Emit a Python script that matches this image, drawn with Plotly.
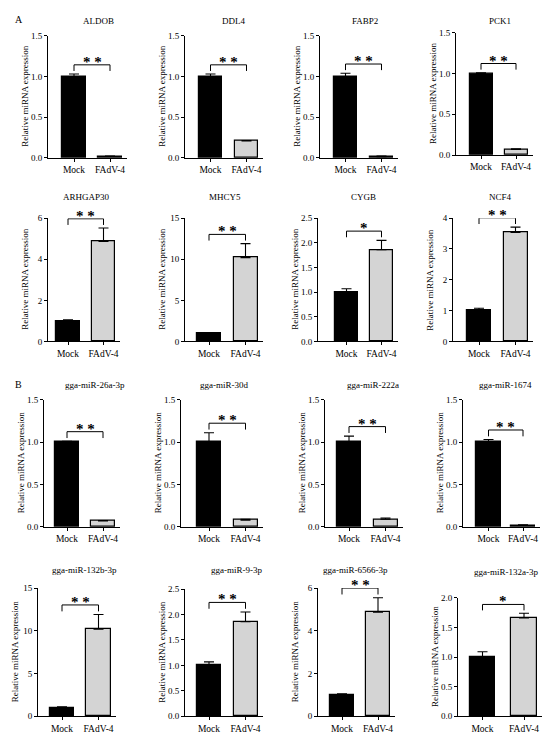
import plotly.graph_objects as go

# panel names, in reading order
genes = ["ALDOB", "DDL4", "FABP2", "PCK1",
         "ARHGAP30", "MHCY5", "CYGB", "NCF4",
         "gga-miR-26a-3p", "gga-miR-30d", "gga-miR-222a", "gga-miR-1674",
         "gga-miR-132b-3p", "gga-miR-9-3p", "gga-miR-6566-3p", "gga-miR-132a-3p"]
groups = ["Mock", "FAdV-4"]

mock_mean = [1.0, 1.0, 1.0, 1.0, 1.0, 1.0, 1.0, 1.0,
             1.0, 1.0, 1.0, 1.0, 1.0, 1.0, 1.0, 1.0]
mock_err = [0.03, 0.03, 0.04, 0.01, 0.05, 0.08, 0.07, 0.08,
            0.01, 0.11, 0.07, 0.03, 0.10, 0.07, 0.05, 0.09]
fadv_mean = [0.02, 0.21, 0.015, 0.07, 4.87, 10.2, 1.86, 3.54,
             0.07, 0.08, 0.09, 0.02, 10.2, 1.86, 4.87, 1.66]
fadv_err = [0.005, 0.005, 0.008, 0.008, 0.65, 1.7, 0.19, 0.17,
            0.005, 0.01, 0.015, 0.005, 1.7, 0.19, 0.68, 0.08]
sig = ["**", "**", "**", "**", "**", "**", "*", "**",
       "**", "**", "**", "**", "**", "**", "**", "*"]
y_max = [1.5, 1.5, 1.5, 1.5, 6, 15, 2.5, 4,
         1.5, 1.5, 1.5, 1.5, 15, 2.5, 6, 2.0]
y_step = [0.5, 0.5, 0.5, 0.5, 2, 5, 0.5, 1,
          0.5, 0.5, 0.5, 0.5, 5, 0.5, 2, 0.5]

W, H = 550, 735
FONT = "Liberation Serif"

# (axis left, axis top, axis bottom, first bar centre offset, bar spacing, bar width) in px
geom = [
    (40, 23, 147, 26, 36, 23.5), (177, 23, 147, 25.5, 36, 23.5),
    (312, 23, 147, 25.5, 36, 23.5), (448, 20, 144, 25, 35, 23),
    (40, 208, 333, 20, 35.5, 23.5), (177, 208, 333, 24, 36.5, 24),
    (310, 208, 333, 28.5, 35, 23.5), (445, 208, 333, 26, 36.5, 24),
    (36, 392, 521, 23, 36, 24), (173, 392, 521, 28, 36.5, 24),
    (317, 392, 521, 24, 36.5, 24), (455, 392, 521, 25.5, 34.5, 24.5),
    (30, 583, 713, 24, 36.5, 24.5), (177, 584, 713, 24, 36.5, 24),
    (310, 583, 713, 24, 36, 24), (450, 593, 713, 24.5, 41.5, 25.5),
]
# title centres (px)
title_pos = [(90, 8), (225, 8), (357, 8), (492, 8),
             (78, 187), (217, 187), (355, 187), (492, 187),
             (87, 377), (216, 377), (365, 377), (498, 377),
             (76, 565), (228, 565), (347, 565), (498, 567)]

fig = go.Figure()
shapes = []
annotations = []

for i, g in enumerate(genes):
    n = "" if i == 0 else str(i + 1)
    left, top, bottom, off, sp, bw = geom[i]
    right = left + off + sp + bw / 2 + 5
    x0 = -off / sp
    x1 = (right - left - off) / sp

    fig.add_trace(go.Bar(
        x=[0, 1], y=[mock_mean[i], fadv_mean[i]],
        width=bw / sp,
        marker=dict(color=["#000000", "#d4d4d4"],
                    line=dict(color="black", width=1.2)),
        error_y=dict(type="data", symmetric=False,
                     array=[mock_err[i], fadv_err[i]], arrayminus=[0, 0],
                     color="black", thickness=1.1, width=5),
        xaxis="x" + n, yaxis="y" + n, showlegend=False,
    ))

    ax = dict(domain=[left / W, right / W], anchor="y" + n,
              range=[x0, x1], tickvals=[0, 1], ticktext=groups,
              showline=True, linecolor="black", linewidth=1,
              ticks="outside", ticklen=3, tickcolor="black",
              showgrid=False, zeroline=False,
              tickfont=dict(family=FONT, size=9.5, color="black"),
              fixedrange=True)
    ay = dict(domain=[1 - bottom / H, 1 - top / H], anchor="x" + n,
              range=[0, y_max[i]], dtick=y_step[i], tick0=0,
              tickformat=".1f" if y_step[i] < 1 else "d",
              showline=True, linecolor="black", linewidth=1,
              ticks="outside", ticklen=3, tickcolor="black",
              showgrid=False, zeroline=False,
              tickfont=dict(family=FONT, size=9, color="black"),
              fixedrange=True)
    fig.update_layout(**{"xaxis" + n: ax, "yaxis" + n: ay})

    # significance bracket above the taller bar
    ytop = max(mock_mean[i] + mock_err[i], fadv_mean[i] + fadv_err[i])
    drop = ytop + 0.025 * y_max[i]
    hi = drop + 0.05 * y_max[i]
    shapes.append(dict(type="path", xref="x" + n, yref="y" + n,
                       path=f"M 0 {drop} L 0 {hi} L 1 {hi} L 1 {drop}",
                       line=dict(color="black", width=1)))
    annotations.append(dict(x=0.5, y=hi / y_max[i], xref="x" + n, yref="y" + n + " domain",
                            text="<b>" + sig[i].replace("**", "* *") + "</b>", showarrow=False,
                            yanchor="bottom", yshift=-7,
                            font=dict(family=FONT, size=15, color="black")))

    tx, ty = title_pos[i]
    annotations.append(dict(x=tx / W, y=1 - ty / H, xref="paper", yref="paper",
                            text=g, showarrow=False, xanchor="center", yanchor="middle",
                            font=dict(family=FONT, size=9, color="black")))
    annotations.append(dict(x=(left - 23) / W, y=1 - (top + bottom) / 2 / H,
                            xref="paper", yref="paper",
                            text="Relative miRNA expression", textangle=-90,
                            showarrow=False, xanchor="center", yanchor="middle",
                            font=dict(family=FONT, size=9, color="black")))

annotations.append(dict(x=5 / W, y=1 - 7 / H, xref="paper", yref="paper", text="A",
                        showarrow=False, xanchor="left", yanchor="middle",
                        font=dict(family=FONT, size=10, color="black")))
annotations.append(dict(x=5 / W, y=1 - 377 / H, xref="paper", yref="paper", text="B",
                        showarrow=False, xanchor="left", yanchor="middle",
                        font=dict(family=FONT, size=10, color="black")))

fig.update_layout(
    width=W, height=H,
    margin=dict(l=0, r=0, t=0, b=0),
    paper_bgcolor="white", plot_bgcolor="white",
    shapes=shapes, annotations=annotations,
    showlegend=False, bargap=0,
)

fig.write_html("out.html")
